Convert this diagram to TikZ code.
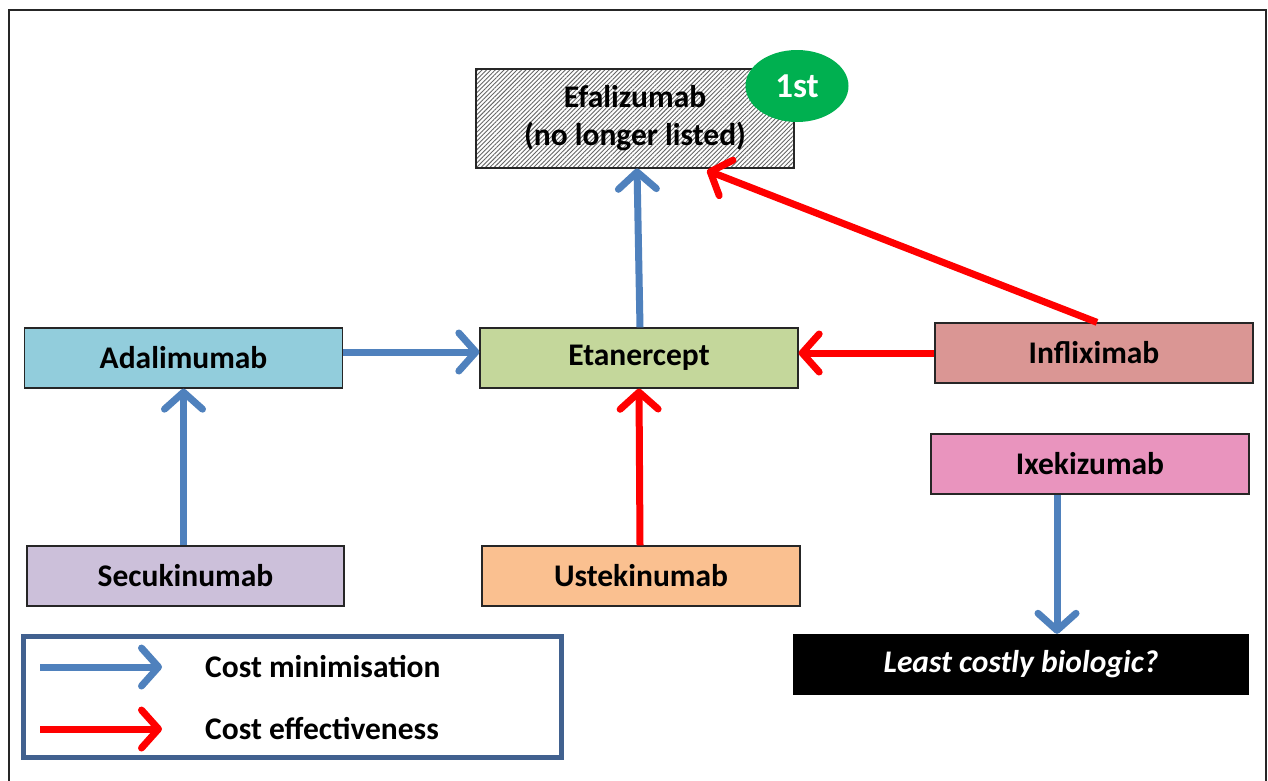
\documentclass[tikz,border=0pt]{standalone}
\usepackage{fontspec}
\setmainfont{Carlito}
\usetikzlibrary{arrows.meta,patterns.meta,shapes.geometric}
\definecolor{cmblue}{HTML}{4F81BD}
\definecolor{cered}{HTML}{FF0000}
\definecolor{legblue}{HTML}{41618F}
\definecolor{cAda}{HTML}{92CDDC}
\definecolor{cEta}{HTML}{C4D79B}
\definecolor{cInf}{HTML}{DA9694}
\definecolor{cIxe}{HTML}{E994BE}
\definecolor{cSec}{HTML}{CCC0DA}
\definecolor{cUst}{HTML}{FAC090}
\definecolor{cGreen}{HTML}{00B050}
\tikzset{
  drug/.style={draw=black!85, line width=1.3pt, minimum width=318pt, minimum height=60pt, inner sep=0pt, font=\fontsize{31.5}{36}\selectfont\bfseries},
  tipstyle/.style={-{Straight Barb[round,length=17pt,width=38pt]}},
  cmarrow/.style={tipstyle, draw=cmblue, line width=7pt},
  cearrow/.style={tipstyle, draw=cered, line width=7pt},
  legtext/.style={anchor=west, inner sep=0pt, font=\fontsize{31.5}{36}\selectfont\bfseries},
}
\begin{document}
\begin{tikzpicture}[x=1pt,y=-1pt]
\useasboundingbox (0,0) rectangle (1268,780);
\fill[white] (0,0) rectangle (1268,780);
% outer frame (open at bottom)
\draw[black!85, line width=2pt] (9,782) -- (9,10) -- (1266,10) -- (1266,782);

% nodes
\node[drug, minimum height=99pt, pattern={Lines[angle=45,distance=3.1pt,line width=0.9pt]}, pattern color=black!60, align=center, font=\fontsize{31.5}{38}\selectfont\bfseries] (efa) at (635,118.5) {Efalizumab\\(no longer listed)};
\node[ellipse, fill=cGreen, minimum width=103pt, minimum height=72pt, inner sep=0pt, text=white, font=\fontsize{35}{40}\selectfont\bfseries] (first) at (797,86) {1st};
\node[drug, fill=cAda] (ada) at (183.5,358) {Adalimumab};
\node[drug, fill=cEta] (eta) at (639,358) {Etanercept};
\node[drug, fill=cInf] (inf) at (1094,353) {Infliximab};
\node[drug, fill=cIxe] (ixe) at (1090,464) {Ixekizumab};
\node[drug, fill=cSec, minimum width=317pt] (sec) at (185.5,576) {Secukinumab};
\node[drug, fill=cUst] (ust) at (641,576) {Ustekinumab};
\node[fill=black, minimum width=456pt, minimum height=61pt, inner sep=0pt, text=white, font=\fontsize{31.5}{36}\selectfont\bfseries\itshape] (least) at (1021,664.5) {Least costly biologic?};

% connectors
\draw[cmarrow] (sec.north -| ada.south) -- (ada.south);
\draw[cmarrow] ([yshift=6pt]ada.east) -- ([yshift=6pt]eta.west);
\draw[cmarrow] ([xshift=1pt]eta.north) -- ([xshift=2pt]efa.south);
\draw[cearrow] ([xshift=-1pt]ust.north) -- (eta.south);
\draw[cearrow] (inf.west) -- (inf.west -| eta.east);
\draw[cearrow] ([xshift=3pt]inf.north) -- ([xshift=72pt,yshift=-2pt]efa.south);
\coordinate (ixs) at ([xshift=-33pt]ixe.south);
\draw[cmarrow] (ixs) -- (ixs |- least.north);

% legend
\node[draw=legblue, line width=5pt, minimum width=538pt, minimum height=121pt, inner sep=0pt] (legend) at (292,696.5) {};
\coordinate (l1a) at (40,667);
\coordinate (l1b) at (162,667);
\coordinate (l2a) at (40,729);
\coordinate (l2b) at (162,729);
\draw[cmarrow] (l1a) -- (l1b);
\draw[cearrow] (l2a) -- (l2b);
\node[legtext] (lt1) at (205,667) {Cost minimisation};
\node[legtext] (lt2) at (205,729) {Cost effectiveness};
\end{tikzpicture}
\end{document}
